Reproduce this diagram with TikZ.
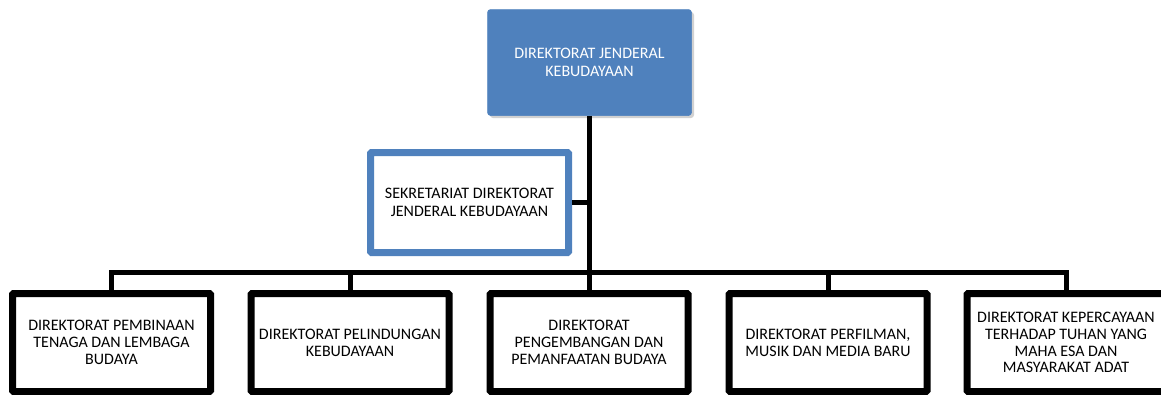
\documentclass[tikz,border=0pt]{standalone}
\usepackage{fontspec}
\setmainfont{Carlito}
\usetikzlibrary{shadows}
\definecolor{accentblue}{HTML}{4F81BD}
\tikzset{
  conn/.style={line width=5pt, draw=black},
  headbox/.style={fill=accentblue, draw=accentblue, line width=0.5pt, rounded corners=3pt,
    minimum width=204pt, minimum height=106pt, inner sep=0pt, align=center, text=white,
    font=\fontsize{16}{18}\selectfont,
    drop shadow={shadow xshift=2.5pt, shadow yshift=-2.5pt, fill=black, opacity=0.18}},
  sekbox/.style={fill=white, draw=accentblue, line width=7pt, rounded corners=1pt,
    minimum width=198pt, minimum height=100pt, inner sep=0pt, align=center, text=black,
    font=\fontsize{16}{18}\selectfont,
    drop shadow={shadow xshift=2.5pt, shadow yshift=-2.5pt, fill=black, opacity=0.18}},
  unitbox/.style={fill=white, draw=black, line width=7pt, rounded corners=1pt,
    minimum width=198pt, minimum height=98pt, inner sep=0pt, align=center, text=black,
    font=\fontsize{16}{16.8}\selectfont,
    drop shadow={shadow xshift=2.5pt, shadow yshift=-2.5pt, fill=black, opacity=0.18}},
}
\begin{document}
\begin{tikzpicture}[x=1pt,y=-1pt]
\useasboundingbox (0,0) rectangle (1161,394);
\node[headbox] (top) at (589.5,62.5) {DIREKTORAT JENDERAL\\KEBUDAYAAN};
\node[sekbox] (sek) at (469.5,202.5) {SEKRETARIAT DIREKTORAT\\JENDERAL KEBUDAYAAN};
\node[unitbox] (b1) at (111.5,342.5) {DIREKTORAT PEMBINAAN\\TENAGA DAN LEMBAGA\\BUDAYA};
\node[unitbox] (b2) at (350,342.5) {DIREKTORAT PELINDUNGAN\\KEBUDAYAAN};
\node[unitbox] (b3) at (589,342.5) {DIREKTORAT\\PENGEMBANGAN DAN\\PEMANFAATAN BUDAYA};
\node[unitbox] (b4) at (828,342.5) {DIREKTORAT PERFILMAN,\\MUSIK DAN MEDIA BARU};
\node[unitbox] (b5) at (1066,342.5) {DIREKTORAT KEPERCAYAAN\\TERHADAP TUHAN YANG\\MAHA ESA DAN\\MASYARAKAT ADAT};
\coordinate (busy) at (0,272.5);
\draw[conn] (top.south) -- (top.south |- busy);
\draw[conn] (sek.east) -- (sek.east -| top.south);
\draw[conn] (b1.north) |- (b5.north |- busy) -- (b5.north);
\draw[conn] (b2.north) -- (b2.north |- busy);
\draw[conn] (b3.north) -- (b3.north |- busy);
\draw[conn] (b4.north) -- (b4.north |- busy);
\end{tikzpicture}
\end{document}
